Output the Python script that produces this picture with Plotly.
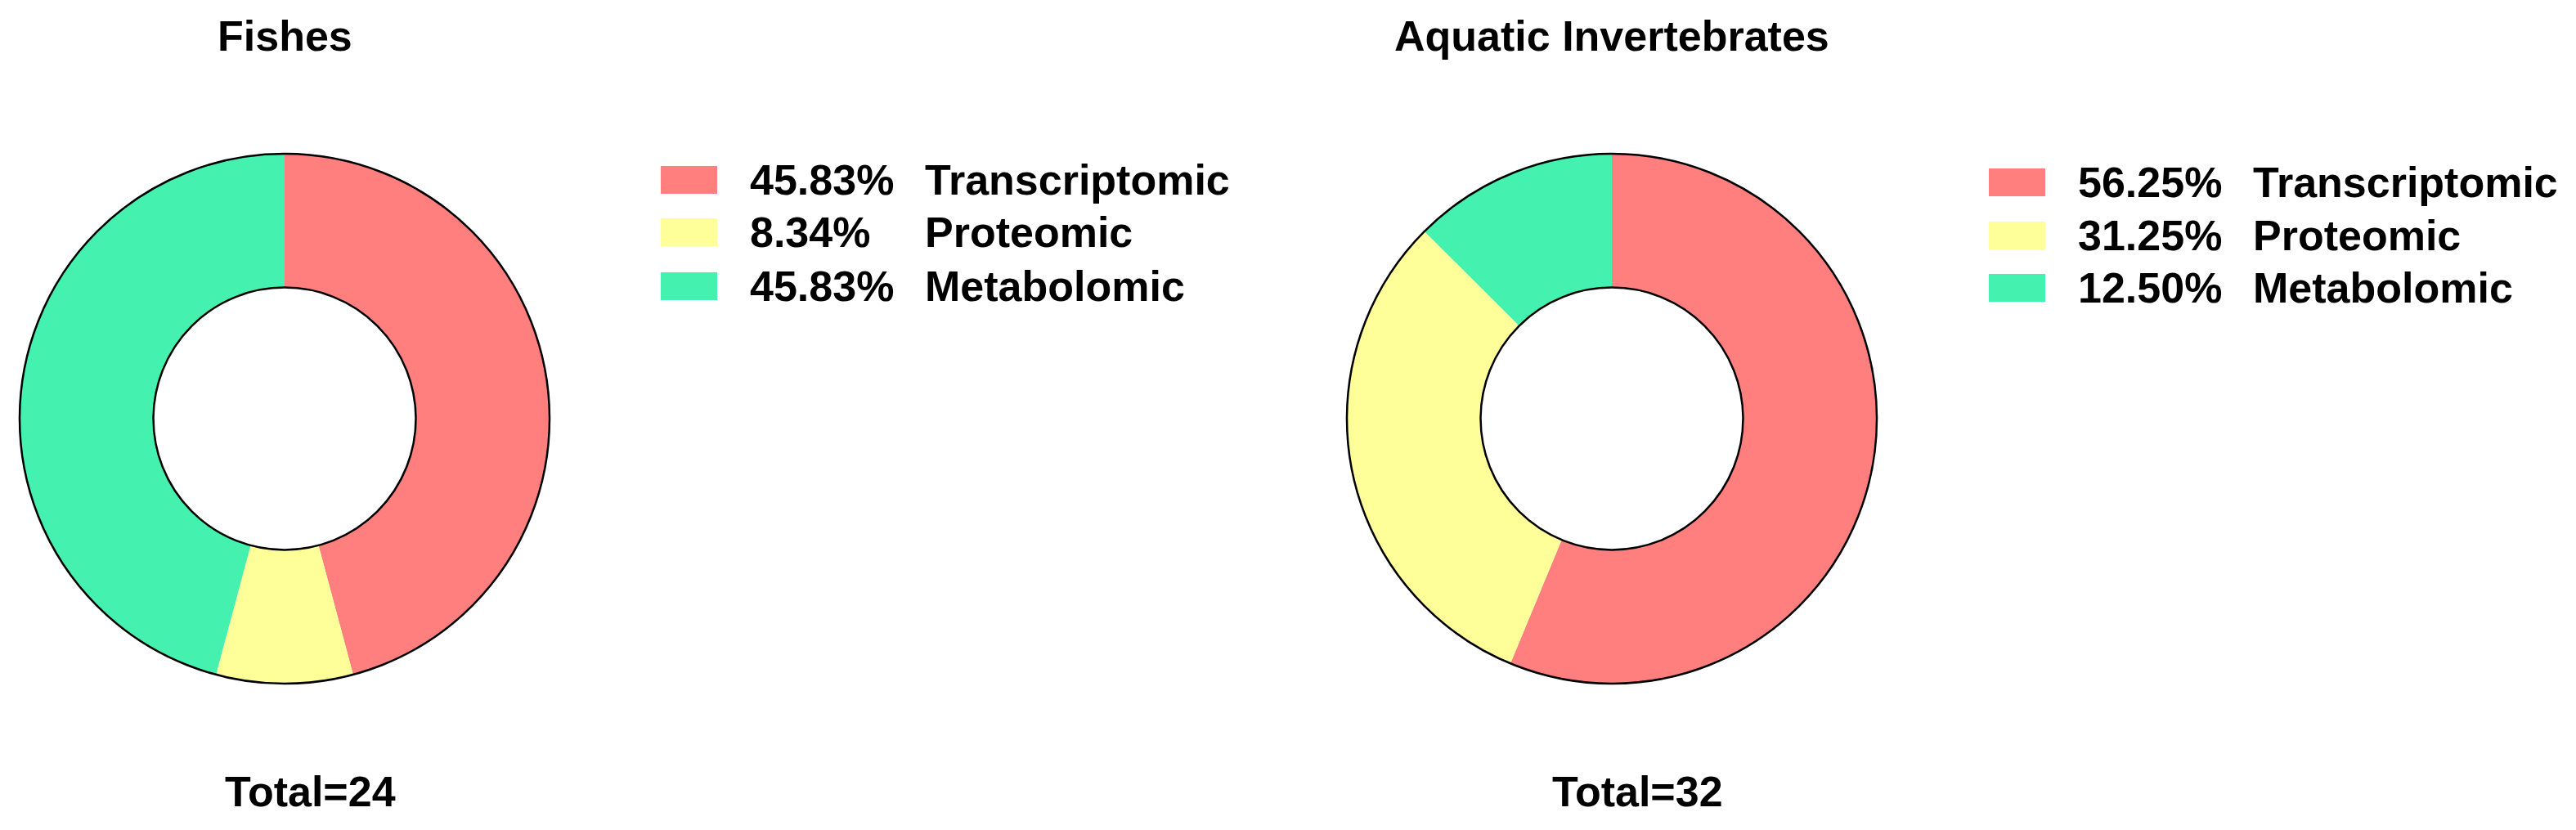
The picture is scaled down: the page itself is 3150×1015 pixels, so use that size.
import plotly.graph_objects as go

W, H = 3150, 1015

# data
categories = ["Transcriptomic", "Proteomic", "Metabolomic"]
titles = ["Fishes", "Aquatic Invertebrates"]
fishes_counts = [11, 2, 11]
invert_counts = [18, 10, 4]
fishes_pct = ["45.83%", "8.34%", "45.83%"]
invert_pct = ["56.25%", "31.25%", "12.50%"]
colors = ["#FF7F7F", "#FFFF99", "#44F1AE"]

FONT = dict(family="Liberation Sans, Arial, sans-serif", size=52, color="black", weight=700)
HOLE = 0.495


def px(x):
    return x / W


def py(y):
    return 1 - y / H


# pixel layout of each panel
panels = [
    dict(title=titles[0], counts=fishes_counts, pct=fishes_pct,
         cx=348, cy=512, r=324, sq_x=808, pct_x=915, lab_x=1129,
         rows=[220, 284, 350], total_x=379),
    dict(title=titles[1], counts=invert_counts, pct=invert_pct,
         cx=1971, cy=512, r=324, sq_x=2432, pct_x=2539, lab_x=2753,
         rows=[223, 288, 352], total_x=2002),
]

fig = go.Figure()
shapes = []
annotations = []

for p in panels:
    dom = dict(x=[px(p["cx"] - p["r"]), px(p["cx"] + p["r"])],
               y=[py(p["cy"] + p["r"]), py(p["cy"] - p["r"])])

    fig.add_trace(go.Pie(
        labels=categories, values=p["counts"], hole=HOLE, sort=False,
        direction="clockwise", rotation=0, domain=dom,
        marker=dict(colors=colors, line=dict(width=0)),
        textinfo="none", showlegend=False, hoverinfo="label+value+percent",
    ))
    # outer / inner black ring only (no radial edges)
    fig.add_trace(go.Pie(
        labels=["Total"], values=[sum(p["counts"])], hole=HOLE, sort=False,
        domain=dom,
        marker=dict(colors=["rgba(0,0,0,0)"], line=dict(color="black", width=2.5)),
        textinfo="none", showlegend=False, hoverinfo="skip",
    ))

    annotations.append(dict(text=p["title"], x=px(p["cx"]), y=py(44),
                            xref="paper", yref="paper", xanchor="center",
                            yanchor="middle", showarrow=False, font=FONT))
    annotations.append(dict(text=f"Total={sum(p['counts'])}", x=px(p["total_x"]), y=py(968),
                            xref="paper", yref="paper", xanchor="center",
                            yanchor="middle", showarrow=False, font=FONT))

    # legend drawn by hand: wide colour boxes, percent, name
    for cat, pct, col, ry in zip(categories, p["pct"], colors, p["rows"]):
        shapes.append(dict(type="rect", xref="paper", yref="paper",
                           x0=px(p["sq_x"]), x1=px(p["sq_x"] + 69),
                           y0=py(ry + 17), y1=py(ry - 17),
                           fillcolor=col, line=dict(width=0)))
        annotations.append(dict(text=pct, x=px(p["pct_x"]), y=py(ry),
                                xref="paper", yref="paper", xanchor="left",
                                yanchor="middle", showarrow=False, font=FONT))
        annotations.append(dict(text=cat, x=px(p["lab_x"]), y=py(ry),
                                xref="paper", yref="paper", xanchor="left",
                                yanchor="middle", showarrow=False, font=FONT))

fig.update_layout(
    width=W, height=H,
    margin=dict(l=0, r=0, t=0, b=0),
    paper_bgcolor="white", plot_bgcolor="white",
    shapes=shapes, annotations=annotations,
    showlegend=False,
)

fig.write_html("out.html", config={"displayModeBar": False},
               post_script="document.body.style.margin='0';")
